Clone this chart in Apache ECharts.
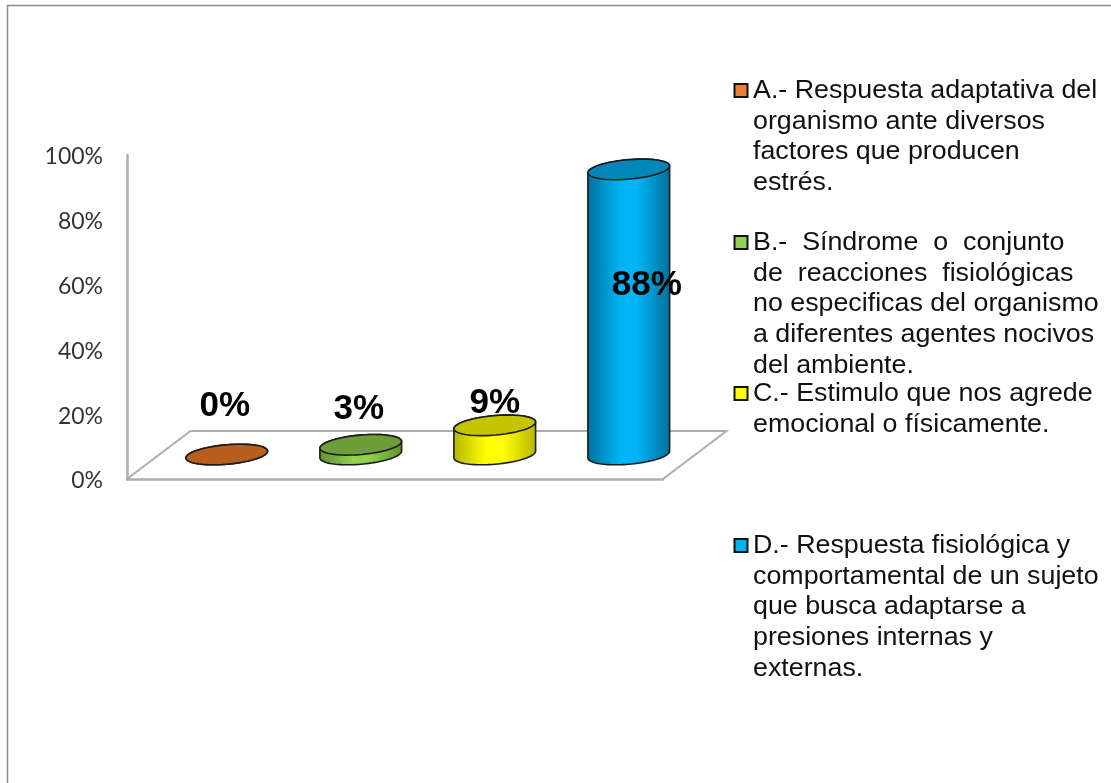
<!DOCTYPE html>
<html>
<head>
<meta charset="utf-8">
<style>html,body{margin:0;padding:0;background:#fff}#c{width:1111px;height:783px}</style>
<script src="https://cdn.jsdelivr.net/npm/echarts@6/dist/echarts.min.js"></script>
</head>
<body>
<div id="c"></div>
<script>
const categories = ['A', 'B', 'C', 'D'];
const percentValues = [0, 3, 9, 88];
const valueLabels = ['0%', '3%', '9%', '88%'];
const tickStep = 20;
const legendTexts = [
  ['A.- Respuesta adaptativa del', 'organismo ante diversos', 'factores que producen', 'estrés.'],
  ['B.-  Síndrome  o  conjunto', 'de  reacciones  fisiológicas', 'no especificas del organismo', 'a diferentes agentes nocivos', 'del ambiente.'],
  ['C.- Estimulo que nos agrede', 'emocional o físicamente.'],
  ['D.- Respuesta fisiológica y', 'comportamental de un sujeto', 'que busca adaptarse a', 'presiones internas y', 'externas.']
];

// Styling and layout (not data)
const swatchColors = ['#ed7d31', '#92d050', '#ffff00', '#00b0f0'];
const topColors = ['#b85f1e', '#6f9d3a', '#c4c400', '#0086b8'];
const sideEdge = ['#8a4a18', '#5f9030', '#b5b500', '#00709c'];
const sideMid = ['#ed7d31', '#92d050', '#ffff00', '#00b4f5'];
const legendRowY = [90, 242, 393, 545];
const labelOffset = [[-2, -48], [-2, -35], [0, -21.5], [18, 115.5]];
const DEPTH_X = 63.5, DEPTH_Y = 48, A = 41, B = 9.7, TILT = -5 * Math.PI / 180;

const chart = echarts.init(document.getElementById('c'));

function ellipsePoint(cx, cy, t) {
  const c = Math.cos(t), s = Math.sin(t);
  return [
    cx + A * c * Math.cos(TILT) - B * s * Math.sin(TILT),
    cy + A * c * Math.sin(TILT) + B * s * Math.cos(TILT)
  ];
}
function arc(cx, cy, t0, t1) {
  const pts = [];
  for (let k = 0; k <= 48; k++) pts.push(ellipsePoint(cx, cy, t0 + (t1 - t0) * k / 48));
  return pts;
}

function renderFloor(params, api) {
  const r = params.coordSys;
  const L = r.x, Rt = r.x + r.width, Y = r.y + r.height;
  return {
    type: 'polyline', silent: true,
    shape: { points: [[L, Y], [L + DEPTH_X, Y - DEPTH_Y], [Rt + DEPTH_X, Y - DEPTH_Y], [Rt, Y]] },
    style: { fill: null, stroke: '#aeaeae', lineWidth: 2 }
  };
}

function renderCylinder(params, api) {
  const i = api.value(0);
  const base = api.coord([i, 0]);
  const top = api.coord([i, api.value(1)]);
  const cx = base[0] + DEPTH_X / 2 + 1;
  const yBase = base[1] - DEPTH_Y / 2 - 0.5;
  const yTop = top[1] - DEPTH_Y / 2 - 0.5;
  const t0 = Math.atan2(-B * Math.sin(TILT), A * Math.cos(TILT));
  const outline = arc(cx, yBase, t0, t0 + Math.PI).concat(arc(cx, yTop, t0 + Math.PI, t0 + 2 * Math.PI));
  const text = {
    type: 'text',
    style: {
      text: valueLabels[i], x: cx + labelOffset[i][0], y: yTop + labelOffset[i][1],
      align: 'center', verticalAlign: 'middle',
      font: 'bold 35px "Liberation Sans", Arial, sans-serif', fill: '#000'
    }
  };
  const body = {
    type: 'polygon', shape: { points: outline },
    style: {
      fill: new echarts.graphic.LinearGradient(0, 0, 1, 0, [
        { offset: 0, color: sideEdge[i] }, { offset: 0.4, color: sideMid[i] },
        { offset: 0.6, color: sideMid[i] }, { offset: 1, color: sideEdge[i] }
      ]),
      stroke: '#1c1c1c', lineWidth: 1.6
    }
  };
  const cap = {
    type: 'polygon', shape: { points: arc(cx, yTop, 0, 2 * Math.PI) },
    style: { fill: topColors[i], stroke: '#1c1c1c', lineWidth: 1.6 }
  };
  const children = api.value(1) > 50 ? [body, cap, text] : [text, body, cap];
  return { type: 'group', children };
}

const graphics = [
  { type: 'polyline', silent: true, shape: { points: [[7.5, 783], [7.5, 5.5], [1111, 5.5]] },
    style: { fill: null, stroke: '#8c8c8c', lineWidth: 1.5 } }
];
legendTexts.forEach((lines, g) => {
  graphics.push({
    type: 'rect', silent: true, shape: { x: 734.5, y: legendRowY[g] - 6, width: 13, height: 13 },
    style: { fill: swatchColors[g], stroke: '#111', lineWidth: 2 }
  });
  lines.forEach((line, n) => {
    graphics.push({
      type: 'text', silent: true, x: 753, y: legendRowY[g] + 1 + n * 30.8, scaleX: 1.072,
      style: { text: line, font: '25px "Liberation Sans", Arial, sans-serif', fill: '#111', verticalAlign: 'middle', align: 'left' }
    });
  });
});

chart.setOption({
  animation: false,
  backgroundColor: '#ffffff',
  grid: { left: 127, top: 155, width: 536, height: 324 },
  xAxis: {
    type: 'category', data: categories,
    axisTick: { show: false }, axisLabel: { show: false },
    axisLine: { show: true, lineStyle: { color: '#aeaeae', width: 2.5 } },
    splitLine: { show: false }
  },
  yAxis: {
    type: 'value', min: 0, max: 100, interval: tickStep,
    axisLine: { show: true, lineStyle: { color: '#aeaeae', width: 2.5 } },
    axisTick: { show: false }, splitLine: { show: false },
    axisLabel: {
      formatter: '{t|{value}%}', margin: 24,
      rich: { t: { color: '#333', fontSize: 23, fontFamily: 'Lato', padding: [4, 0, 0, 0] } }
    }
  },
  series: [
    { type: 'custom', name: 'floor', renderItem: renderFloor, data: [[0, 0]], clip: false, silent: true, z: 1,
      encode: { x: 0, y: 1 } },
    { type: 'custom', name: 'Respuestas', renderItem: renderCylinder, clip: false, silent: true, z: 3,
      data: categories.map((c, i) => [i, percentValues[i]]), encode: { x: 0, y: 1 } }
  ],
  graphic: graphics
});
</script>
</body>
</html>
